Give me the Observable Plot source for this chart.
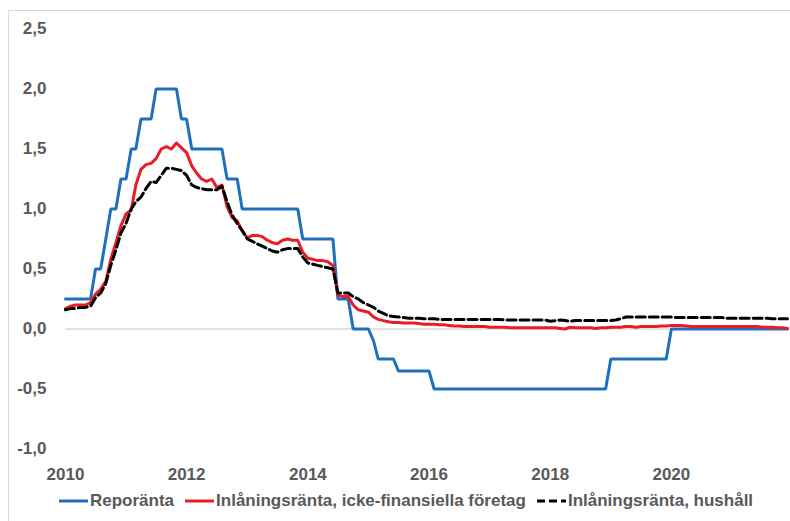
<!DOCTYPE html>
<html>
<head>
<meta charset="utf-8">
<script src="https://cdn.jsdelivr.net/npm/d3@7"></script>
<script src="https://cdn.jsdelivr.net/npm/@observablehq/plot@0.6"></script>
<style>
  html, body { margin: 0; padding: 0; background: #fff; }
  #frame { position: absolute; left: 8px; top: 10px; width: 900px; height: 700px; border: 1px solid #d9d9d9; pointer-events: none; }
  #chart { position: relative; }
  #legend { position: relative; display: flex; align-items: center; height: 32px; padding-left: 59px;
            font: bold 17px "Liberation Sans", Arial, sans-serif; color: #595959; white-space: nowrap; }
  #legend .item { display: flex; align-items: center; margin-right: 11px; }
  #legend svg { margin-right: 2px; }
</style>
</head>
<body>
<div id="frame"></div>
<div id="chart"></div>
<div id="legend"></div>
<script>
// Monthly observations, January 2010 – December 2021
const startMonth = new Date(Date.UTC(2010, 0, 1));
const seriesNames = ["Reporänta", "Inlåningsränta, icke-finansiella företag", "Inlåningsränta, hushåll"];
const seriesColors = ["#1f6fbf", "#ea1c26", "#000000"];

const repo = [
  0.25,0.25,0.25,0.25,0.25,0.25,0.5,0.5,0.75,1.0,1.0,1.25,
  1.25,1.5,1.5,1.75,1.75,1.75,2.0,2.0,2.0,2.0,2.0,1.75,
  1.75,1.5,1.5,1.5,1.5,1.5,1.5,1.5,1.25,1.25,1.25,1.0,
  1.0,1.0,1.0,1.0,1.0,1.0,1.0,1.0,1.0,1.0,1.0,0.75,
  0.75,0.75,0.75,0.75,0.75,0.75,0.25,0.25,0.25,0.0,0.0,0.0,
  0.0,-0.1,-0.25,-0.25,-0.25,-0.25,-0.35,-0.35,-0.35,-0.35,-0.35,-0.35,
  -0.35,-0.5,-0.5,-0.5,-0.5,-0.5,-0.5,-0.5,-0.5,-0.5,-0.5,-0.5,
  -0.5,-0.5,-0.5,-0.5,-0.5,-0.5,-0.5,-0.5,-0.5,-0.5,-0.5,-0.5,
  -0.5,-0.5,-0.5,-0.5,-0.5,-0.5,-0.5,-0.5,-0.5,-0.5,-0.5,-0.5,
  -0.25,-0.25,-0.25,-0.25,-0.25,-0.25,-0.25,-0.25,-0.25,-0.25,-0.25,-0.25,
  0,0,0,0,0,0,0,0,0,0,0,0,
  0,0,0,0,0,0,0,0,0,0,0,0
];

const corporate = [
  0.17,0.19,0.2,0.2,0.2,0.22,0.29,0.33,0.4,0.58,0.72,0.86,
  0.96,0.99,1.2,1.33,1.37,1.38,1.42,1.5,1.52,1.5,1.55,1.51,
  1.47,1.36,1.3,1.25,1.23,1.25,1.18,1.2,1.02,0.93,0.9,0.82,
  0.76,0.78,0.78,0.77,0.74,0.72,0.71,0.74,0.75,0.74,0.74,0.64,
  0.59,0.58,0.57,0.57,0.56,0.53,0.28,0.27,0.27,0.2,0.16,0.15,
  0.14,0.1,0.08,0.07,0.06,0.055,0.055,0.05,0.05,0.05,0.045,0.04,
  0.04,0.04,0.035,0.035,0.03,0.025,0.025,0.02,0.02,0.02,0.02,0.02,
  0.015,0.015,0.015,0.015,0.01,0.01,0.01,0.01,0.01,0.01,0.01,0.01,
  0.01,0.01,0.005,0.0,0.015,0.01,0.01,0.01,0.01,0.005,0.01,0.01,
  0.015,0.015,0.015,0.02,0.02,0.015,0.02,0.02,0.02,0.02,0.025,0.025,
  0.03,0.03,0.03,0.025,0.02,0.02,0.02,0.02,0.02,0.02,0.02,0.02,
  0.02,0.02,0.02,0.02,0.02,0.02,0.015,0.015,0.015,0.01,0.01,0.005
];

const household = [
  0.16,0.17,0.17,0.18,0.18,0.19,0.26,0.3,0.38,0.53,0.66,0.8,
  0.88,1.0,1.06,1.1,1.17,1.23,1.22,1.28,1.34,1.34,1.33,1.32,
  1.28,1.2,1.18,1.17,1.16,1.16,1.16,1.19,1.06,0.95,0.88,0.82,
  0.75,0.73,0.71,0.69,0.67,0.65,0.64,0.66,0.67,0.67,0.67,0.6,
  0.55,0.54,0.53,0.52,0.51,0.5,0.3,0.3,0.3,0.27,0.25,0.22,
  0.2,0.18,0.15,0.13,0.11,0.105,0.1,0.095,0.09,0.09,0.09,0.085,
  0.085,0.085,0.08,0.08,0.08,0.08,0.08,0.08,0.08,0.08,0.08,0.08,
  0.08,0.08,0.08,0.075,0.075,0.075,0.075,0.075,0.075,0.075,0.075,0.075,
  0.065,0.07,0.075,0.07,0.065,0.07,0.07,0.07,0.07,0.07,0.07,0.07,
  0.07,0.075,0.085,0.1,0.1,0.1,0.1,0.1,0.1,0.1,0.1,0.1,
  0.1,0.095,0.095,0.095,0.095,0.095,0.095,0.095,0.095,0.095,0.095,0.09,
  0.09,0.09,0.09,0.09,0.09,0.09,0.09,0.09,0.085,0.085,0.085,0.085
];

const yTicks = [-1.0, -0.5, 0.0, 0.5, 1.0, 1.5, 2.0, 2.5];
const xTickYears = [2010, 2012, 2014, 2016, 2018, 2020];

const dates = repo.map((_, i) => d3.utcMonth.offset(startMonth, i));
const valueSets = [repo, corporate, household];
const rows = valueSets.map((vals, s) => vals.map((v, i) => ({date: dates[i], value: v, series: seriesNames[s]})));

const chart = Plot.plot({
  width: 790,
  height: 485,
  marginLeft: 65,
  marginRight: 3,
  marginTop: 28.5,
  marginBottom: 36.5,
  style: {
    fontFamily: "'Liberation Sans', Arial, sans-serif",
    fontSize: "17px",
    fontWeight: "bold",
    color: "#595959",
    background: "transparent",
    overflow: "visible"
  },
  x: {type: "utc", domain: [startMonth, dates[dates.length - 1]]},
  y: {domain: [-1, 2.5]},
  marks: [
    Plot.ruleY([0], {stroke: "#d9d9d9", strokeWidth: 1.5}),
    Plot.axisY(yTicks, {tickSize: 0, tickPadding: 19, label: null,
      tickFormat: d => d.toFixed(1).replace(".", ",")}),
    Plot.axisX(xTickYears.map(y => new Date(Date.UTC(y, 0, 1))), {tickSize: 0, tickPadding: 18.5, label: null,
      tickFormat: d => String(d.getUTCFullYear())}),
    Plot.line(rows[0], {x: "date", y: "value", stroke: seriesColors[0], strokeWidth: 3, strokeLinejoin: "miter"}),
    Plot.line(rows[1], {x: "date", y: "value", stroke: seriesColors[1], strokeWidth: 3}),
    Plot.line(rows[2], {x: "date", y: "value", stroke: seriesColors[2], strokeWidth: 3, strokeDasharray: "9,4"})
  ]
});
document.getElementById("chart").appendChild(chart);

const legend = document.getElementById("legend");
seriesNames.forEach((name, s) => {
  const item = document.createElement("div");
  item.className = "item";
  const dash = s === 2 ? ' stroke-dasharray="8,4"' : "";
  item.innerHTML = `<svg width="29" height="10"><line x1="0" x2="29" y1="5" y2="5" stroke="${seriesColors[s]}" stroke-width="3"${dash}/></svg><span>${name}</span>`;
  legend.appendChild(item);
});
</script>
</body>
</html>
